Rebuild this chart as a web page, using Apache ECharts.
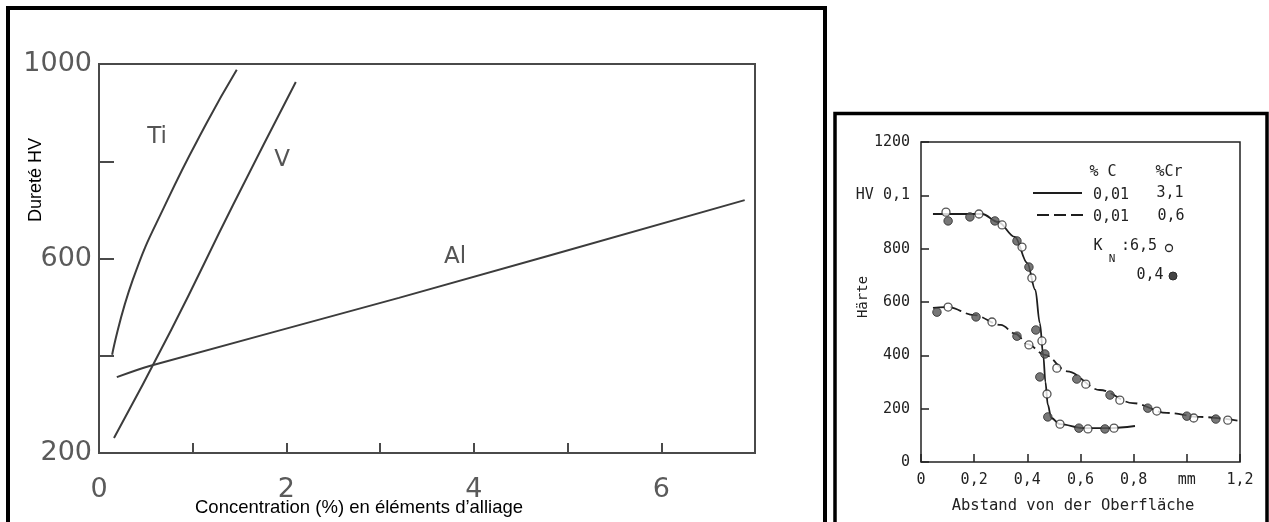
<!DOCTYPE html>
<html><head><meta charset="utf-8">
<script src="https://cdn.jsdelivr.net/npm/echarts@6/dist/echarts.min.js"></script>
<style>html,body{margin:0;padding:0;background:#fff}#c{width:1269px;height:522px}</style>
</head><body><div id="c"></div>
<script>
// ---------- Left chart: hardness vs alloying element concentration ----------
const tiData = [[0.14,402],[0.36,556],[0.73,720],[1.15,879],[1.47,988]];
const vData  = [[0.16,231],[0.77,453],[1.43,710],[2.1,963]];
const alData = [[0.19,356],[0.54,379],[3.2,519],[6.89,720]];
const leftXTickLabels = ['0','','2','','4','','6',''];      // ticks 0..7 step 1
const leftYTickLabels = ['200','','600','','1000'];         // ticks 200..1000 step 200
const leftCurveNames = ['Ti','V','Al'];

// ---------- Right chart: Härte vs Abstand ----------
const solidLine = [[0.045,930],[0.23,930],[0.29,900],[0.353,844],[0.40,746],[0.43,645],[0.447,521],[0.46,400],[0.468,300],[0.477,215],[0.49,165],[0.523,142],[0.61,127],[0.71,127],[0.805,135]];
const dashedLine = [[0.045,578],[0.10,581],[0.20,551],[0.30,514],[0.357,480],[0.40,442],[0.466,402],[0.55,340],[0.673,270],[0.797,221],[0.925,184],[1.05,169],[1.2,154]];
const solidOpen   = [[0.094,937],[0.218,930],[0.305,889],[0.380,806],[0.417,690],[0.455,454],[0.474,255],[0.523,142],[0.628,124],[0.726,127]];
const solidFilled = [[0.102,904],[0.184,919],[0.278,904],[0.361,829],[0.406,731],[0.432,495],[0.447,319],[0.477,169],[0.594,127],[0.692,124]];
const dashedOpen   = [[0.102,581],[0.267,525],[0.406,439],[0.511,352],[0.620,292],[0.748,232],[0.887,191],[1.026,165],[1.154,157]];
const dashedFilled = [[0.060,562],[0.207,544],[0.361,472],[0.466,405],[0.586,311],[0.711,251],[0.853,202],[1.0,172],[1.109,161]];
const rightXTickLabels = ['0','0,2','0,4','0,6','0,8','mm','1,2'];
const rightYTickLabels = ['0','200','400','600','800','HV 0,1','1200'];
const legendHead = ['% C','%Cr'];
const legendRows = [['0,01','3,1'],['0,01','0,6']];
const knLabels = [':6,5','0,4'];

const chart = echarts.init(document.getElementById('c'), null, {renderer:'canvas'});
const scanGray = '#3c3c3c';
const leftFont = 'DejaVu Sans';
const monoFont = 'DejaVu Sans Mono';

const option = {
  animation: false,
  backgroundColor: '#fff',
  grid: [
    {left: 99, top: 64, width: 656, height: 389, show: true, borderColor: '#4a4a4a', borderWidth: 2, backgroundColor: 'transparent'},
    {left: 921, top: 142, width: 319, height: 320, show: true, borderColor: '#222', borderWidth: 1.5, backgroundColor: 'transparent'}
  ],
  xAxis: [
    {gridIndex: 0, type: 'value', min: 0, max: 7, interval: 1,
     axisLine: {show: false}, splitLine: {show: false},
     axisTick: {show: true, inside: true, length: 10, lineStyle: {color: '#4a4a4a', width: 2}},
     axisLabel: {margin: 23, fontSize: 27, fontFamily: leftFont, color: '#5a5a5a',
                 showMaxLabel: false,
                 formatter: v => leftXTickLabels[Math.round(v)] || ''}},
    {gridIndex: 1, type: 'value', min: 0, max: 1.2, interval: 0.2,
     axisLine: {show: false}, splitLine: {show: false},
     axisTick: {show: true, inside: true, length: 8, lineStyle: {color: '#222', width: 1.5}},
     axisLabel: {margin: 11, fontSize: 15, fontFamily: monoFont, color: '#222',
                 formatter: v => rightXTickLabels[Math.round(v / 0.2)] || ''}}
  ],
  yAxis: [
    {gridIndex: 0, type: 'value', min: 200, max: 1000, interval: 200,
     axisLine: {show: false}, splitLine: {show: false},
     axisTick: {show: true, inside: true, length: 15, lineStyle: {color: '#4a4a4a', width: 2}},
     axisLabel: {margin: 7, fontSize: 27, fontFamily: leftFont, color: '#5a5a5a', padding: [6, 0, 0, 0],
                 formatter: v => leftYTickLabels[Math.round((v - 200) / 200)] || ''}},
    {gridIndex: 1, type: 'value', min: 0, max: 1200, interval: 200,
     axisLine: {show: false}, splitLine: {show: false},
     axisTick: {show: true, inside: true, length: 8, lineStyle: {color: '#222', width: 1.5}},
     axisLabel: {margin: 11, fontSize: 15, fontFamily: monoFont, color: '#222',
                 formatter: v => rightYTickLabels[Math.round(v / 200)] || ''}}
  ],
  series: [
    {name: leftCurveNames[0], type: 'line', xAxisIndex: 0, yAxisIndex: 0, data: tiData, smooth: 0.5, showSymbol: false, lineStyle: {color: scanGray, width: 2}},
    {name: leftCurveNames[1], type: 'line', xAxisIndex: 0, yAxisIndex: 0, data: vData, smooth: 0.5, showSymbol: false, lineStyle: {color: scanGray, width: 2}},
    {name: leftCurveNames[2], type: 'line', xAxisIndex: 0, yAxisIndex: 0, data: alData, smooth: 0.3, showSymbol: false, lineStyle: {color: scanGray, width: 2}},
    {name: '3,1 %Cr', type: 'line', xAxisIndex: 1, yAxisIndex: 1, data: solidLine, smooth: 0.35, smoothMonotone: 'x', showSymbol: false, lineStyle: {color: '#1e1e1e', width: 1.8}},
    {name: '0,6 %Cr', type: 'line', xAxisIndex: 1, yAxisIndex: 1, data: dashedLine, smooth: 0.35, smoothMonotone: 'x', showSymbol: false, lineStyle: {color: '#1e1e1e', width: 1.8, type: [12, 5]}},
    {name: 'KN 6,5 a', type: 'scatter', xAxisIndex: 1, yAxisIndex: 1, data: solidOpen, symbolSize: 8, itemStyle: {color: '#fff', borderColor: '#2a2a2a', borderWidth: 1.3}, z: 5},
    {name: 'KN 0,4 a', type: 'scatter', xAxisIndex: 1, yAxisIndex: 1, data: solidFilled, symbolSize: 8.5, itemStyle: {color: '#555', borderColor: '#2a2a2a', borderWidth: 1}, z: 5},
    {name: 'KN 6,5 b', type: 'scatter', xAxisIndex: 1, yAxisIndex: 1, data: dashedOpen, symbolSize: 8, itemStyle: {color: '#fff', borderColor: '#2a2a2a', borderWidth: 1.3}, z: 5},
    {name: 'KN 0,4 b', type: 'scatter', xAxisIndex: 1, yAxisIndex: 1, data: dashedFilled, symbolSize: 8.5, itemStyle: {color: '#555', borderColor: '#2a2a2a', borderWidth: 1}, z: 5}
  ],
  graphic: [
    // frames
    {type: 'rect', shape: {x: 8, y: 8, width: 817, height: 540}, style: {fill: 'none', stroke: '#000', lineWidth: 4}, z: 10},
    {type: 'rect', shape: {x: 835, y: 113.5, width: 432, height: 430}, style: {fill: 'none', stroke: '#000', lineWidth: 3.5}, z: 10},
    // left curve names
    {type: 'text', x: 157, y: 137, style: {text: leftCurveNames[0], font: '23px "DejaVu Sans"', fill: '#555', align: 'center', verticalAlign: 'middle'}},
    {type: 'text', x: 282, y: 160, style: {text: leftCurveNames[1], font: '23px "DejaVu Sans"', fill: '#555', align: 'center', verticalAlign: 'middle'}},
    {type: 'text', x: 455, y: 257, style: {text: leftCurveNames[2], font: '23px "DejaVu Sans"', fill: '#555', align: 'center', verticalAlign: 'middle'}},
    // left axis titles
    {type: 'text', x: 36, y: 180, rotation: Math.PI / 2, style: {text: 'Dureté HV', font: '18px "Liberation Sans"', fill: '#000', align: 'center', verticalAlign: 'middle'}},
    {type: 'text', x: 359, y: 508, style: {text: 'Concentration (%) en éléments d’alliage', font: '18.5px "Liberation Sans"', fill: '#000', align: 'center', verticalAlign: 'middle'}},
    // right axis titles
    {type: 'text', x: 863, y: 297, rotation: Math.PI / 2, style: {text: 'Härte', font: '14px "DejaVu Sans Mono"', fill: '#222', align: 'center', verticalAlign: 'middle'}},
    {type: 'text', x: 1073, y: 506, style: {text: 'Abstand von der Oberfläche', font: '15.5px "DejaVu Sans Mono"', fill: '#222', align: 'center', verticalAlign: 'middle'}},
    // right legend
    {type: 'text', x: 1103, y: 172, style: {text: legendHead[0], font: '15px "DejaVu Sans Mono"', fill: '#222', align: 'center', verticalAlign: 'middle'}},
    {type: 'text', x: 1169, y: 172, style: {text: legendHead[1], font: '15px "DejaVu Sans Mono"', fill: '#222', align: 'center', verticalAlign: 'middle'}},
    {type: 'line', shape: {x1: 1033, y1: 193, x2: 1082, y2: 193}, style: {stroke: '#1e1e1e', lineWidth: 2}},
    {type: 'text', x: 1111, y: 195, style: {text: legendRows[0][0], font: '15px "DejaVu Sans Mono"', fill: '#222', align: 'center', verticalAlign: 'middle'}},
    {type: 'text', x: 1170, y: 193, style: {text: legendRows[0][1], font: '15px "DejaVu Sans Mono"', fill: '#222', align: 'center', verticalAlign: 'middle'}},
    {type: 'line', shape: {x1: 1037, y1: 215, x2: 1083, y2: 215}, style: {stroke: '#1e1e1e', lineWidth: 1.8, lineDash: [12, 5]}},
    {type: 'text', x: 1111, y: 217, style: {text: legendRows[1][0], font: '15px "DejaVu Sans Mono"', fill: '#222', align: 'center', verticalAlign: 'middle'}},
    {type: 'text', x: 1171, y: 216, style: {text: legendRows[1][1], font: '15px "DejaVu Sans Mono"', fill: '#222', align: 'center', verticalAlign: 'middle'}},
    {type: 'text', x: 1098, y: 246, style: {text: 'K', font: '15px "DejaVu Sans Mono"', fill: '#222', align: 'center', verticalAlign: 'middle'}},
    {type: 'text', x: 1112, y: 259, style: {text: 'N', font: '11px "DejaVu Sans Mono"', fill: '#222', align: 'center', verticalAlign: 'middle'}},
    {type: 'text', x: 1121, y: 246, style: {text: knLabels[0], font: '15px "DejaVu Sans Mono"', fill: '#222', align: 'left', verticalAlign: 'middle'}},
    {type: 'circle', shape: {cx: 1169, cy: 248, r: 3.5}, style: {fill: '#fff', stroke: '#2a2a2a', lineWidth: 1.3}},
    {type: 'text', x: 1150, y: 275, style: {text: knLabels[1], font: '15px "DejaVu Sans Mono"', fill: '#222', align: 'center', verticalAlign: 'middle'}},
    {type: 'circle', shape: {cx: 1173, cy: 276, r: 4}, style: {fill: '#444', stroke: '#2a2a2a', lineWidth: 1}}
  ]
};
chart.setOption(option);
</script>
</body></html>
